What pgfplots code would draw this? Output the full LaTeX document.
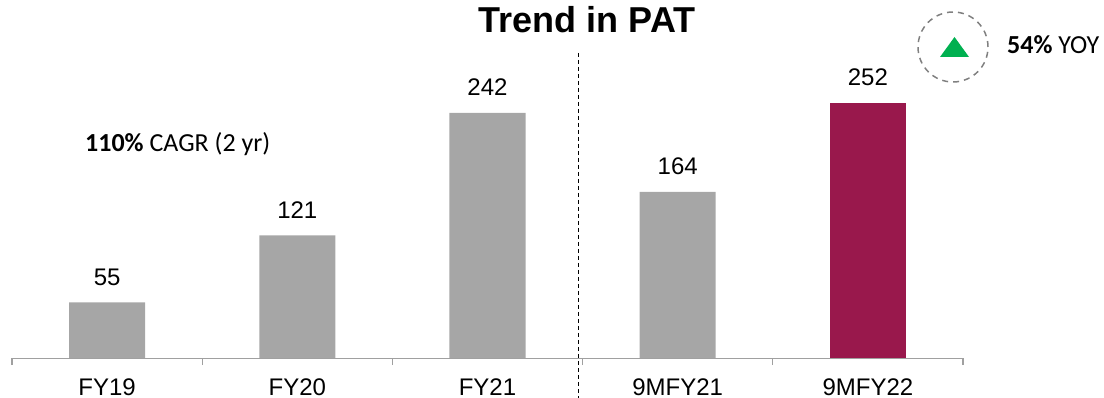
\documentclass[border=0pt]{standalone}
\usepackage{pgfplots}
\pgfplotsset{compat=1.18}
\usepackage{fontspec}
\setmainfont{Liberation Sans}
\newfontfamily\calib{Carlito}
\definecolor{bargray}{HTML}{A6A6A6}
\definecolor{maroon}{HTML}{99184C}
\definecolor{axgray}{HTML}{A0A0A0}
\definecolor{tgreen}{HTML}{00B050}
\begin{document}
\begin{tikzpicture}
\useasboundingbox (-12bp,-40bp) rectangle (1092bp,358bp);
\begin{axis}[
  at={(0,0)}, anchor=south west,
  scale only axis, width=951bp, height=304bp,
  xmin=-0.5, xmax=4.5, ymin=0, ymax=300,
  ybar, bar width=0.4, bar shift=0pt,
  axis x line=bottom, axis y line=none,
  axis line style={-, draw=axgray, line width=1pt},
  xtick={0,1,2,3,4},
  xticklabels={FY19,FY20,FY21,9MFY21,9MFY22},
  major tick length=0pt,
  xticklabel style={anchor=base, inner sep=0pt, yshift=-37bp, font=\fontsize{24bp}{28bp}\selectfont},
  extra x ticks={-0.5,0.5,1.5,2.5,3.5,4.5},
  extra x tick labels={},
  extra x tick style={major tick length=7bp, tick align=outside, tick style={draw=axgray, line width=1.2pt}},
  nodes near coords,
  nodes near coords style={font=\fontsize{24bp}{28bp}\selectfont, anchor=base, inner sep=0pt, yshift=17bp, text=black, /pgf/number format/assume math mode=true},
  clip=false,
]
\addplot[fill=bargray, draw=none] coordinates {(0,55) (1,121) (2,242) (3,164)};
\addplot[fill=maroon, draw=none] coordinates {(4,252)};
\end{axis}
\draw[black, line width=1pt, dash pattern=on 4bp off 3bp] (566bp,305bp) -- (566bp,-40bp);
\node[anchor=base, inner sep=0pt, font=\fontsize{36bp}{40bp}\selectfont\bfseries] at (575bp,325bp) {Trend in PAT};
\node[anchor=base west, inner sep=0pt, font=\calib\fontsize{26bp}{30bp}\selectfont] at (73bp,206bp) {\textbf{110\%} CAGR (2 yr)};
\draw[gray, line width=1.5pt, dash pattern=on 6bp off 5bp] (941bp,311bp) circle (35bp);
\fill[tgreen] (928bp,301bp) -- (957bp,301bp) -- (942.5bp,321bp) -- cycle;
\node[anchor=base west, inner sep=0pt, font=\calib\fontsize{26bp}{30bp}\selectfont] at (995bp,304bp) {\textbf{54\%} YOY};
\end{tikzpicture}
\end{document}
